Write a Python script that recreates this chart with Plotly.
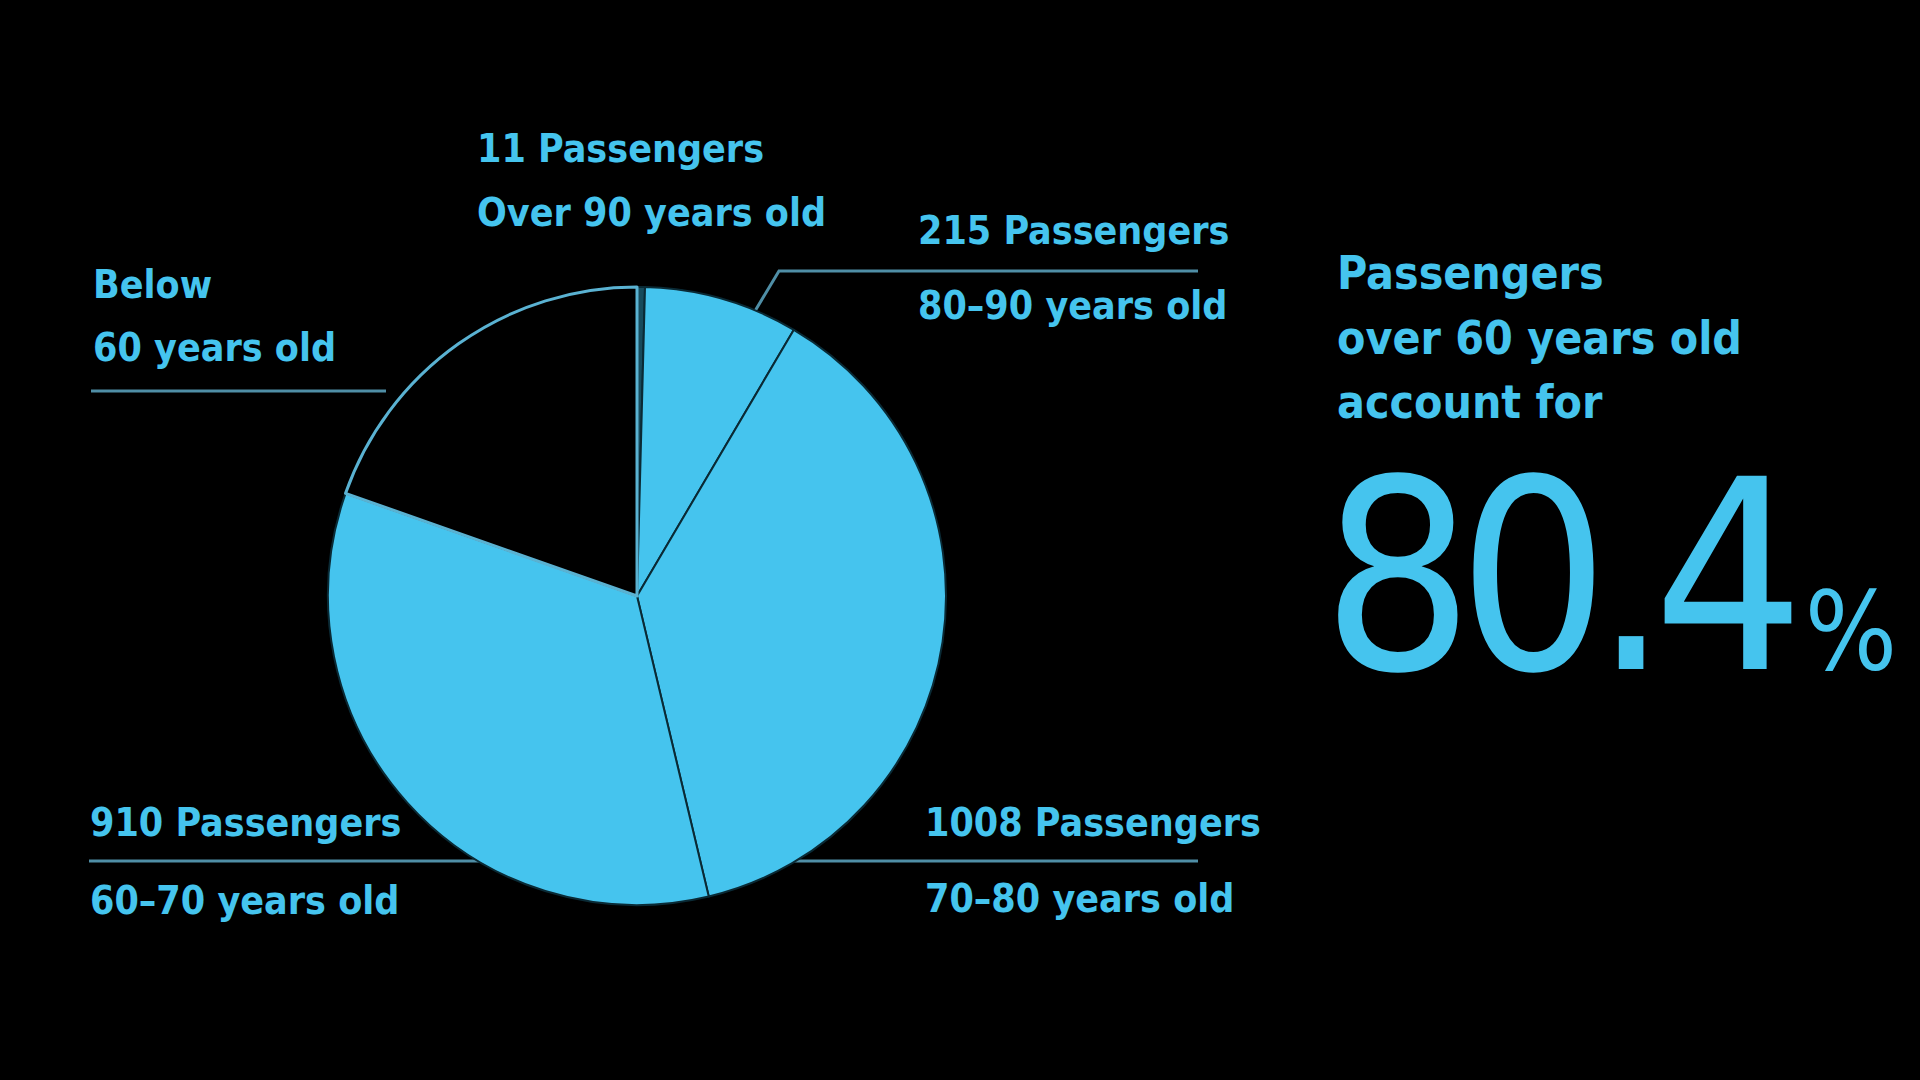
import plotly.graph_objects as go

# ---- data ----
age_groups = ["Over 90 years old", "80-90 years old", "70-80 years old", "60-70 years old", "Below 60 years old"]
passengers = [11, 215, 1008, 910, 523]
slice_colors = ["#174b5c", "#45C4EE", "#45C4EE", "#45C4EE", "#000000"]
line_colors = ["#0a2a35", "#0a2a35", "#0a2a35", "#0a2a35", "#5ab2d2"]
line_widths = [2, 2, 2, 2, 3]

W, H = 1920, 1080
BLUE = "#45C4EE"
LEAD = "#4f8ea6"
FONT = "DejaVu Sans Condensed, Liberation Sans Narrow, Arial Narrow, sans-serif"

def px(x):
    return x / W

def py(y):
    return 1 - y / H

cx, cy, r = 637, 596, 309

fig = go.Figure(go.Pie(
    values=passengers,
    labels=age_groups,
    sort=False,
    direction="clockwise",
    rotation=0,
    marker=dict(colors=slice_colors, line=dict(color=line_colors, width=line_widths)),
    textinfo="none",
    hoverinfo="skip",
    showlegend=False,
    domain=dict(x=[px(cx - r), px(cx + r)], y=[py(cy + r), py(cy - r)]),
))

over60 = sum(passengers[:4])
share = over60 / sum(passengers) * 100
share_txt = f"{share:.1f}"

ann = []
def label(text, x, y, size=39, anchor="left"):
    ann.append(dict(text=text, x=px(x), y=py(y), xref="paper", yref="paper",
                    xanchor=anchor, yanchor="middle", showarrow=False,
                    font=dict(family=FONT, size=size, color=BLUE, weight="bold")))

label(f"{passengers[0]} Passengers", 475, 148)
label(age_groups[0], 475, 213)
label(f"{passengers[1]} Passengers", 916, 230)
label(age_groups[1].replace("-", "–"), 916, 305)
label(f"{passengers[2]} Passengers", 923, 822)
label(age_groups[2].replace("-", "–"), 923, 898)
label(f"{passengers[3]} Passengers", 88, 822)
label(age_groups[3].replace("-", "–"), 88, 900)
label("Below", 91, 285)
label("60 years old", 91, 347)

label("Passengers", 1335, 273, size=46)
label("over 60 years old", 1335, 338, size=46)
label("account for", 1335, 402, size=46)

ann.append(dict(text=f"<span style='letter-spacing:-16px'>{share_txt[:-1]}</span>{share_txt[-1]}"
                     f"<span style='font-size:108px'>%</span>",
                x=px(1320), y=py(733), xref="paper", yref="paper",
                xanchor="left", yanchor="bottom", showarrow=False,
                font=dict(family=FONT, size=265, color=BLUE)))

shapes = [
    dict(type="line", xref="paper", yref="paper", x0=px(91), x1=px(386), y0=py(391), y1=py(391),
         line=dict(color=LEAD, width=3), layer="below"),
    dict(type="path", xref="paper", yref="paper",
         path=f"M {px(755)} {py(311)} L {px(779)} {py(271)} L {px(1198)} {py(271)}",
         line=dict(color=LEAD, width=3), layer="below"),
    dict(type="line", xref="paper", yref="paper", x0=px(89), x1=px(1198), y0=py(861), y1=py(861),
         line=dict(color=LEAD, width=3), layer="below"),
]

fig.update_layout(
    width=W, height=H,
    margin=dict(l=0, r=0, t=0, b=0),
    paper_bgcolor="#000000", plot_bgcolor="#000000",
    annotations=ann, shapes=shapes,
)

fig.write_html("out.html", config={"displayModeBar": False},
               post_script="document.body.style.margin='0';document.body.style.background='#000';")
